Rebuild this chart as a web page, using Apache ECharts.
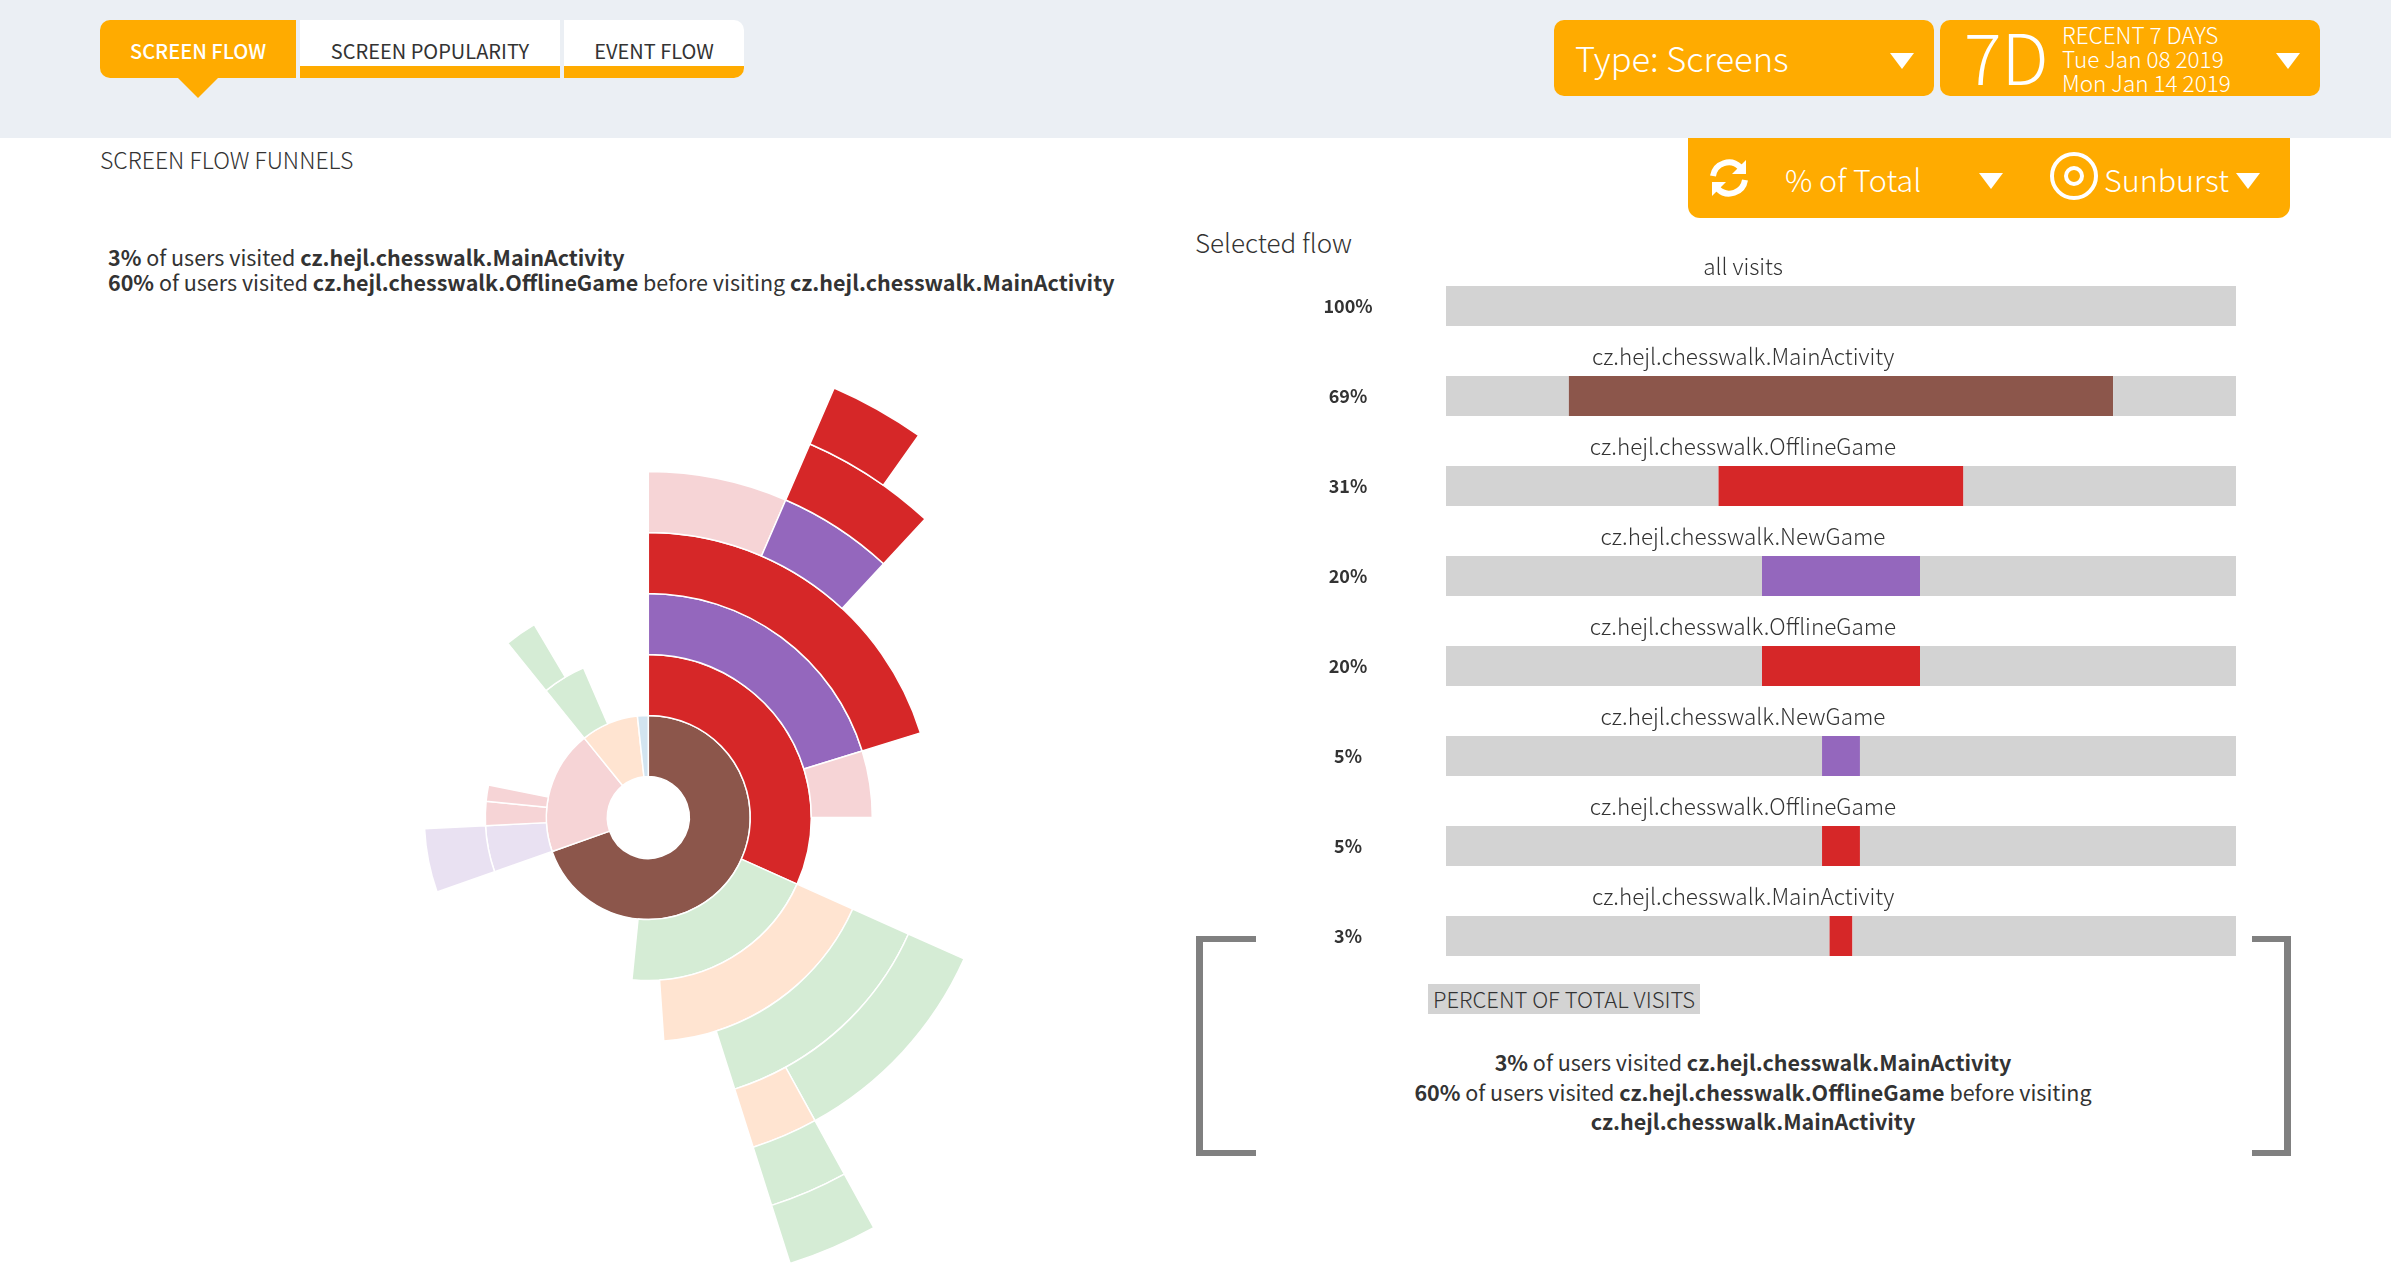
<!DOCTYPE html>
<html>
<head>
<meta charset="utf-8">
<title>Screen flow</title>
<script src="https://cdn.jsdelivr.net/npm/echarts@6/dist/echarts.min.js"></script>
<style>
  html, body { margin: 0; padding: 0; background: #fff; overflow: hidden; }
  body { width: 2391px; height: 1278px; position: relative; color: #333; font-family: "Noto Sans CJK JP", "Noto Sans", sans-serif; }
  b { font-weight: 700; }
  #chart { position: absolute; left: 0; top: 0; width: 2391px; height: 1278px; }
  .abs { position: absolute; white-space: nowrap; }
  .band { left: 0; top: 0; width: 2391px; height: 138px; background: #ebeff4; }
  .orange { background: #ffab00; color: #fff; }
  .tab { top: 20px; height: 58px; background: #fff; border-bottom: 0; box-sizing: border-box; line-height: 61px; text-align: center; font-size: 20px; overflow: hidden; }
  .tab i { position: absolute; left: 0; right: 0; bottom: 0; height: 12px; background: #ffab00; }
  .box { top: 20px; height: 76px; border-radius: 10px; }
  .tri { width: 0; height: 0; border-left: 12px solid transparent; border-right: 12px solid transparent; border-top: 16px solid #fff; }
  .light { font-weight: 300; }
</style>
</head>
<body>
<div class="abs band"></div>

<!-- tabs -->
<div class="abs tab orange" style="left:100px;width:196px;background:#ffab00;border-radius:10px 0 0 10px;font-weight:500">SCREEN FLOW</div>
<div class="abs" style="left:178px;top:78px;width:0;height:0;border-left:20px solid transparent;border-right:20px solid transparent;border-top:20px solid #ffab00"></div>
<div class="abs tab" style="left:300px;width:260px">SCREEN POPULARITY<i></i></div>
<div class="abs tab" style="left:564px;width:180px;border-radius:0 10px 10px 0">EVENT FLOW<i></i></div>

<!-- pickers -->
<div class="abs box orange" style="left:1554px;width:380px"></div>
<div class="abs light" style="left:1575px;top:30px;font-size:34.5px;line-height:54px;color:#fff">Type: Screens</div>
<div class="abs tri" style="left:1890px;top:53px"></div>
<div class="abs box orange" style="left:1940px;width:380px"></div>
<div class="abs light" style="left:1964px;top:10px;font-size:70px;line-height:90px;color:#fff">7D</div>
<div class="abs light" style="left:2062px;top:22px;font-size:22.5px;line-height:24px;color:#fff">RECENT 7 DAYS<br>Tue Jan 08 2019<br>Mon Jan 14 2019</div>
<div class="abs tri" style="left:2276px;top:53px"></div>

<div class="abs orange" style="left:1688px;top:138px;width:602px;height:80px;border-radius:0 0 12px 12px"></div>
<svg class="abs" style="left:1708px;top:157px" width="42" height="42" viewBox="0 0 42 42" fill="none" stroke="#fff" stroke-width="6">
  <path d="M5 19 A16 16 0 0 1 32 10"/><path d="M37 23 A16 16 0 0 1 10 32"/>
  <path d="M38 3 V17 H24 Z" fill="#fff" stroke="none"/><path d="M4 39 V25 H18 Z" fill="#fff" stroke="none"/>
</svg>
<div class="abs light" style="left:1785px;top:154.5px;font-size:30.5px;line-height:48px;color:#fff">% of Total</div>
<div class="abs tri" style="left:1979px;top:173px"></div>
<svg class="abs" style="left:2048px;top:150px" width="52" height="52" viewBox="0 0 52 52" fill="none" stroke="#fff" stroke-width="4">
  <circle cx="26" cy="26" r="22"/><circle cx="26" cy="26" r="8"/>
</svg>
<div class="abs light" style="left:2104px;top:154.5px;font-size:30.5px;line-height:48px;color:#fff">Sunburst</div>
<div class="abs tri" style="left:2236px;top:173px"></div>

<!-- headings -->
<div class="abs light" style="left:100px;top:142.5px;font-size:23px;line-height:32px">SCREEN FLOW FUNNELS</div>
<div class="abs" style="left:108px;top:245px;font-size:21.5px;line-height:24.5px"><b>3%</b> of users visited <b>cz.hejl.chesswalk.MainActivity</b><br><b>60%</b> of users visited <b>cz.hejl.chesswalk.OfflineGame</b> before visiting <b>cz.hejl.chesswalk.MainActivity</b></div>
<div class="abs light" style="left:1195px;top:223px;font-size:26px;line-height:38px">Selected flow</div>

<!-- explanation -->
<div class="abs" style="left:1196px;top:936px;width:53px;height:208px;border:solid #808080;border-width:6px 0 6px 7px"></div>
<div class="abs" style="left:2252px;top:936px;width:32px;height:208px;border:solid #808080;border-width:6px 7px 6px 0"></div>
<div class="abs light" style="left:1428px;top:984px;width:272px;height:30px;line-height:28px;background:#d3d3d3;text-align:center;font-size:22px">PERCENT OF TOTAL VISITS</div>
<div class="abs" style="left:1353px;top:1047px;width:800px;text-align:center;font-size:21.5px;line-height:29.7px"><b>3%</b> of users visited <b>cz.hejl.chesswalk.MainActivity</b><br><b>60%</b> of users visited <b>cz.hejl.chesswalk.OfflineGame</b> before visiting<br><b>cz.hejl.chesswalk.MainActivity</b></div>

<div id="chart"></div>

<script>
// 选中的路径（右侧条形）
var flowNames = ['all visits', 'cz.hejl.chesswalk.MainActivity', 'cz.hejl.chesswalk.OfflineGame', 'cz.hejl.chesswalk.NewGame',
    'cz.hejl.chesswalk.OfflineGame', 'cz.hejl.chesswalk.NewGame', 'cz.hejl.chesswalk.OfflineGame', 'cz.hejl.chesswalk.MainActivity'];
var flowLabels = ['100%', '69%', '31%', '20%', '20%', '5%', '5%', '3%'];
var flowValues = [100, 68.9, 31, 20, 20, 4.8, 4.8, 2.9];
var flowGroups = ['track', 'brown', 'red', 'purple', 'red', 'purple', 'red', 'red'];

// 旭日图节点：组、父节点下标、占比（%）、是否在选中路径上
var nodeGroups = ['brown', 'red', 'orange', 'blue',
    'red', 'green', 'purple', 'red', 'red', 'green',
    'purple', 'red', 'orange', 'purple', 'green',
    'red', 'green',
    'red', 'purple', 'green', 'orange',
    'red', 'green',
    'red', 'green'];
var nodeParents = [-1, -1, -1, -1,
    0, 0, 1, 1, 1, 2,
    4, 4, 5, 6, 9,
    10, 12,
    15, 15, 16, 16,
    18, 20,
    21, 22];
var nodeShares = [69.6, 19.6, 9.1, 1.7,
    31.7, 19.9, 4.6, 2.4, 1.6, 4.3,
    20.2, 4.8, 17.2, 4.6, 2.3,
    20.2, 13.4,
    6.5, 5.4, 10.3, 3.1,
    5.4, 3.1,
    3.3, 3.1];
var nodeSelected = [1, 0, 0, 0,
    1, 0, 0, 0, 0, 0,
    1, 0, 0, 0, 0,
    1, 0,
    0, 1, 0, 0,
    1, 0,
    1, 0];

var solidColors = { brown: '#8c564b', red: '#d62728', purple: '#9467bd', green: '#2ca02c', orange: '#ff7f0e', blue: '#1f77b4', track: '#d3d3d3' };
var paleColors = { red: '#f6d4d6', purple: '#e9e1f2', green: '#d5ecd5', orange: '#ffe4d1', blue: '#d2e4f0' };

var textFont = '"Noto Sans CJK JP", "Noto Sans", sans-serif';

// 把扁平数组拼成树
function buildTree() {
    var nodes = nodeShares.map(function (share, i) {
        var group = nodeGroups[i];
        return {
            name: group + i,
            value: share,
            itemStyle: { color: nodeSelected[i] ? solidColors[group] : paleColors[group] },
            children: []
        };
    });
    var roots = [];
    nodes.forEach(function (node, i) {
        if (nodeParents[i] < 0) {
            roots.push(node);
        } else {
            nodes[nodeParents[i]].children.push(node);
        }
    });
    return roots;
}

function sidePad(v) {
    return (100 - v) / 2;
}

var myChart = echarts.init(document.getElementById('chart'), null, { renderer: 'canvas' });
var option = {
    animation: false,
    backgroundColor: 'transparent',
    textStyle: { fontFamily: textFont },
    grid: { left: 1446, top: 261, width: 790, height: 720, containLabel: false },
    xAxis: { type: 'value', min: 0, max: 100, show: false },
    yAxis: {
        type: 'category',
        inverse: true,
        data: flowLabels,
        axisLine: { show: false },
        axisTick: { show: false },
        splitLine: { show: false },
        axisLabel: { interval: 0, margin: 98, align: 'center', color: '#333', fontWeight: 'bold', fontSize: 18, fontFamily: textFont }
    },
    series: [
        {
            type: 'sunburst',
            center: [648.3, 817.5],
            radius: [41, 468],
            startAngle: 90,
            sort: null,
            nodeClick: false,
            data: buildTree(),
            label: { show: false },
            itemStyle: { borderColor: '#fff', borderWidth: 1.5 },
            emphasis: { disabled: true }
        },
        {
            type: 'bar', stack: 'flow', barWidth: 40, silent: true,
            itemStyle: { color: solidColors.track },
            data: flowValues.map(sidePad)
        },
        {
            type: 'bar', stack: 'flow', barWidth: 40, silent: true,
            data: flowValues.map(function (v, i) {
                return { value: v, itemStyle: { color: solidColors[flowGroups[i]] } };
            })
        },
        {
            type: 'bar', stack: 'flow', barWidth: 40, silent: true,
            itemStyle: { color: solidColors.track },
            data: flowValues.map(sidePad)
        },
        {
            // 条形上方的页面名称
            type: 'scatter', symbol: 'circle', symbolSize: 1, silent: true,
            itemStyle: { color: 'transparent', opacity: 1 },
            data: flowNames.map(function (name, i) { return { name: name, value: [37.6, i] }; }),
            label: {
                show: true, position: 'inside', offset: [0, -40],
                formatter: '{b}', color: '#333', fontSize: 22.5, fontWeight: 300, fontFamily: textFont
            }
        }
    ]
};
myChart.setOption(option);
</script>
</body>
</html>
